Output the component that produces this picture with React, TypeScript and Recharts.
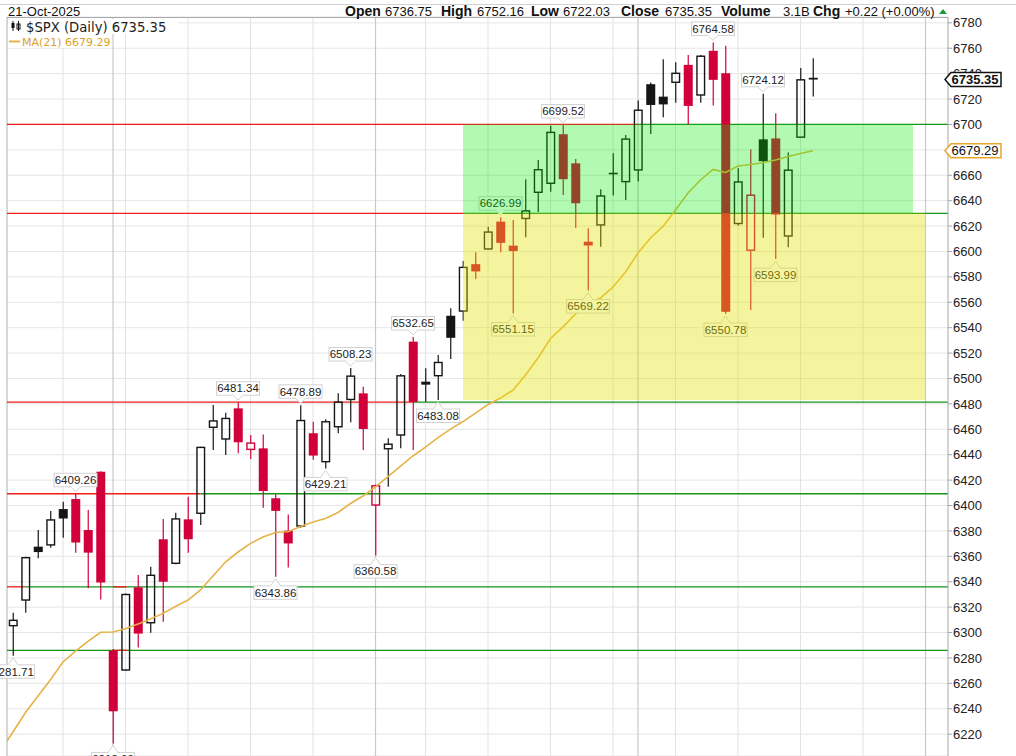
import React from 'react';
import {
  ComposedChart,
  Bar,
  Line,
  XAxis,
  YAxis,
  CartesianGrid,
  ReferenceLine,
  ReferenceArea,
  ReferenceDot,
} from 'recharts';

// ---------------- DATA ----------------
const dates = [
  'Jul 22', 'Jul 23', 'Jul 24', 'Jul 25', 'Jul 28', 'Jul 29', 'Jul 30', 'Jul 31',
  'Aug 1', 'Aug 4', 'Aug 5', 'Aug 6', 'Aug 7', 'Aug 8', 'Aug 11', 'Aug 12', 'Aug 13', 'Aug 14',
  'Aug 15', 'Aug 18', 'Aug 19', 'Aug 20', 'Aug 21', 'Aug 22', 'Aug 25', 'Aug 26', 'Aug 27',
  'Aug 28', 'Aug 29', 'Sep 2', 'Sep 3', 'Sep 4', 'Sep 5', 'Sep 8', 'Sep 9', 'Sep 10', 'Sep 11',
  'Sep 12', 'Sep 15', 'Sep 16', 'Sep 17', 'Sep 18', 'Sep 19', 'Sep 22', 'Sep 23', 'Sep 24',
  'Sep 25', 'Sep 26', 'Sep 29', 'Sep 30', 'Oct 1', 'Oct 2', 'Oct 3', 'Oct 6', 'Oct 7', 'Oct 8',
  'Oct 9', 'Oct 10', 'Oct 13', 'Oct 14', 'Oct 15', 'Oct 16', 'Oct 17', 'Oct 20', 'Oct 21',
];

const opens = [
  6305.4, 6325.6, 6367.6, 6369.0, 6397.2, 6405.1, 6380.7, 6426.6,
  6285.7, 6270.5, 6335.6, 6307.7, 6373.4, 6354.5, 6389.1, 6393.9, 6461.6, 6452.4,
  6476.5, 6444.2, 6445.0, 6405.7, 6380.2, 6383.9, 6456.9, 6434.5, 6462.0,
  6483.5, 6488.3, 6400.4, 6444.7, 6455.5, 6529.0, 6497.5, 6502.2, 6549.4, 6553.1,
  6590.0, 6602.0, 6623.5, 6604.6, 6626.0, 6646.6, 6653.7, 6692.3, 6669.4,
  6607.7, 6620.9, 6662.0, 6655.0, 6664.2, 6731.7, 6721.9, 6733.2, 6746.9, 6723.2,
  6758.0, 6740.3, 6622.0, 6601.0, 6688.3, 6689.0, 6612.2, 6690.0, 6736.75,
];

const highs = [
  6315.6, 6359.7, 6380.7, 6395.7, 6403.0, 6409.26, 6396.5, 6427.02,
  6287.0, 6330.8, 6345.3, 6351.8, 6389.4, 6394.3, 6406.9, 6446.3, 6479.1, 6473.0,
  6481.34, 6455.5, 6456.0, 6408.8, 6393.0, 6478.89, 6466.0, 6467.9, 6488.3,
  6508.23, 6493.5, 6416.5, 6453.0, 6503.5, 6532.65, 6508.0, 6518.5, 6555.3, 6592.5,
  6599.4, 6619.5, 6626.99, 6624.8, 6656.8, 6672.0, 6699.0, 6699.52, 6672.8,
  6618.3, 6649.0, 6677.3, 6691.7, 6718.8, 6733.0, 6751.3, 6749.0, 6754.7, 6754.7,
  6764.58, 6762.0, 6665.5, 6680.5, 6724.12, 6708.8, 6678.0, 6744.5, 6752.16,
];

const lows = [
  6281.71, 6315.6, 6358.4, 6366.8, 6374.6, 6362.8, 6334.8, 6326.1,
  6212.69, 6270.0, 6288.3, 6299.8, 6308.5, 6353.8, 6362.8, 6384.6, 6443.7, 6439.8,
  6441.1, 6436.6, 6398.3, 6343.86, 6351.3, 6382.5, 6436.0, 6429.21, 6456.9,
  6465.5, 6443.7, 6360.58, 6414.8, 6445.0, 6443.7, 6481.7, 6483.08, 6515.4, 6545.5,
  6578.4, 6601.5, 6599.4, 6551.15, 6611.2, 6631.0, 6647.0, 6644.5, 6618.5,
  6569.22, 6603.8, 6644.0, 6640.6, 6655.0, 6692.5, 6705.7, 6717.0, 6699.96, 6717.0,
  6715.0, 6550.78, 6620.3, 6554.0, 6610.9, 6593.99, 6603.3, 6690.0, 6722.03,
];

const closes = [
  6309.62, 6358.91, 6363.35, 6388.64, 6389.77, 6370.86, 6362.90, 6339.39,
  6238.01, 6329.94, 6299.19, 6345.06, 6340.00, 6389.45, 6373.45, 6445.76, 6466.58, 6468.54,
  6449.80, 6449.15, 6411.37, 6395.78, 6370.17, 6466.91, 6439.32, 6465.94, 6481.40,
  6501.86, 6460.26, 6415.54, 6448.26, 6502.08, 6481.50, 6495.15, 6512.61, 6532.04, 6587.47,
  6584.29, 6615.28, 6606.76, 6600.35, 6631.96, 6664.36, 6693.75, 6656.92, 6637.97,
  6604.72, 6643.70, 6661.21, 6688.46, 6711.20, 6715.35, 6715.79, 6740.28, 6714.59, 6753.72,
  6735.11, 6552.51, 6654.72, 6644.31, 6671.06, 6629.07, 6664.01, 6735.13, 6735.35,
];

const closeBeforeFirst = 6305.6;
const maBeforeFirst = 6207.0;

const ma21 = [
  6221.7, 6237.0, 6250.0, 6262.9, 6276.8, 6285.4, 6293.0, 6300.2,
  6300.4, 6303.0, 6306.7, 6310.6, 6315.1, 6320.5, 6325.6, 6333.5, 6344.5, 6355.5,
  6363.4, 6370.2, 6375.2, 6378.7, 6379.4, 6383.5, 6387.0, 6389.8, 6394.5,
  6401.6, 6407.5, 6414.6, 6422.8, 6431.1, 6439.0, 6446.0, 6453.5, 6460.2, 6466.1,
  6472.8, 6479.5, 6484.6, 6490.9, 6502.7, 6516.1, 6531.5, 6540.6, 6550.8,
  6559.1, 6563.4, 6572.0, 6583.9, 6598.8, 6610.6, 6619.7, 6632.7, 6646.1, 6656.3,
  6664.6, 6662.2, 6667.3, 6668.5, 6669.9, 6672.0, 6674.8, 6677.2, 6679.29,
];

const yTicks = [
  6220, 6240, 6260, 6280, 6300, 6320, 6340, 6360, 6380, 6400, 6420, 6440, 6460, 6480,
  6500, 6520, 6540, 6560, 6580, 6600, 6620, 6640, 6660, 6680, 6700, 6720, 6740, 6760, 6780,
];

// weekly (Monday) grid lines and month-start grid lines, as bar indices
const weekLines = [4, 9, 14, 19, 24, 33, 38, 43, 48, 53, 58, 63, 68];
const monthLines = [8, 29, 50, 73];

// callouts: bar index and which extreme is labelled
const calloutIdx = [0, 5, 8, 18, 21, 23, 25, 27, 29, 32, 34, 39, 40, 44, 46, 56, 57, 60, 61];
const calloutSide = [
  'low', 'high', 'low', 'high', 'low', 'high', 'low', 'high', 'low', 'high',
  'low', 'high', 'low', 'high', 'low', 'high', 'low', 'high', 'low',
];

// user drawn levels: value, index where red part ends / green part begins
const levelValues = [6700, 6630, 6481.34, 6409.26, 6336, 6286];
const levelSplit = [50, 36, 32, 15, 1, -0.48];
const gapLevels = [6336, 6286];
const gapFrom = 8;
const gapTo = 9.1;

// zones
const greenZone = { x1: 36, x2: 72, y1: 6630, y2: 6700 };
const yellowZone = { x1: 36, x2: 73, y1: 6483.08, y2: 6630 };

const lastClose = 6735.35;
const lastMA = 6679.29;

// header quote
const headerDate = '21-Oct-2025';
const headerLabels = ['Open', 'High', 'Low', 'Close', 'Volume', 'Chg'];
const headerValues = ['6736.75', '6752.16', '6722.03', '6735.35', '3.1B', '+0.22 (+0.00%)'];

// ---------------- LAYOUT ----------------
const W = 1016;
const H = 756;
const MARGIN = { top: 17, right: 0, bottom: 0, left: 7 };
const X_MIN = -0.48;
const X_MAX = 74.8;
const Y_DOMAIN: [number, number] = [6202.8, 6784.6];
const FONT_A = "'Liberation Sans', Arial, Helvetica, sans-serif";
const FONT_V = "'DejaVu Sans', Verdana, sans-serif";

const RED = '#d1003a';
const BLACK = '#151515';
const LRED = '#ee1c1c';
const LGREEN = '#12951a';
const MA_COLOR = '#e6b347';

const headerLabelX = [345, 441, 531, 621, 721, 813];
const headerValueX = [385, 477, 563, 665, 783, 845];

const data = [
  { i: -1, ma: maBeforeFirst },
  ...dates.map((d, i) => ({
    i,
    date: d,
    o: opens[i],
    h: highs[i],
    l: lows[i],
    c: closes[i],
    pc: i === 0 ? closeBeforeFirst : closes[i - 1],
    range: [lows[i], highs[i]],
    ma: ma21[i],
  })),
];

function Candle(props: any) {
  const { x, y, width, height, payload } = props;
  if (!payload || payload.o == null || y == null) return null;
  const { o, h, l, c, pc } = payload;
  const top = Math.min(y, y + height);
  const bot = Math.max(y, y + height);
  const k = (bot - top) / (h - l || 1);
  const yo = top + (h - o) * k;
  const yc = top + (h - c) * k;
  const cx = x + width / 2;
  const color = c >= pc ? BLACK : RED;
  const hollow = c >= o;
  const bTop = Math.min(yo, yc);
  let bBot = Math.max(yo, yc);
  if (bBot - bTop < 1.6) bBot = bTop + 1.6;
  const bw = 9;
  if (hollow) {
    return (
      <g>
        <line x1={cx} x2={cx} y1={top} y2={bTop} stroke={color} strokeWidth={1.2} />
        <line x1={cx} x2={cx} y1={bBot} y2={bot} stroke={color} strokeWidth={1.2} />
        <rect
          x={cx - bw / 2 + 0.7}
          y={bTop}
          width={bw - 1.4}
          height={bBot - bTop}
          fill="none"
          stroke={color}
          strokeWidth={1.4}
        />
      </g>
    );
  }
  return (
    <g>
      <line x1={cx} x2={cx} y1={top} y2={bot} stroke={color} strokeWidth={1.2} />
      <rect x={cx - bw / 2} y={bTop} width={bw} height={bBot - bTop} fill={color} />
    </g>
  );
}

function Callout(props: any) {
  const { cx, cy, text, below } = props;
  if (cx == null || cy == null) return null;
  const w = 43;
  const h = 13.5;
  const gap = below ? 9 : 7;
  const by = below ? cy + gap : cy - gap - h;
  const baseY = below ? by : by + h;
  const tipY = below ? cy + 2 : cy - 2;
  return (
    <g>
      <rect x={cx - w / 2} y={by} width={w} height={h} fill="#fff" stroke="#d2d2d2" strokeWidth={1} />
      <path
        d={`M${cx - 5},${baseY} L${cx},${tipY} L${cx + 5},${baseY}`}
        fill="#fff"
        stroke="#d2d2d2"
        strokeWidth={1}
      />
      <line x1={cx - 4.3} x2={cx + 4.3} y1={baseY} y2={baseY} stroke="#fff" strokeWidth={1.4} />
      <text
        x={cx}
        y={by + 10.8}
        textAnchor="middle"
        fontSize={11.5}
        fontFamily={FONT_A}
        fill="#222"
      >
        {text}
      </text>
    </g>
  );
}

function ValueTag(props: any) {
  const { cx, cy, text, color, bold } = props;
  if (cx == null || cy == null) return null;
  const l = cx - 3;
  const r = cx + 53;
  const hh = 7;
  return (
    <g>
      <path
        d={`M${l},${cy} L${l + 6},${cy - hh} L${r},${cy - hh} L${r},${cy + hh} L${l + 6},${cy + hh} Z`}
        fill="#fff"
        stroke={color}
        strokeWidth={1.5}
      />
      <text
        x={l + 6.5}
        y={cy + 4.6}
        fontSize={13}
        fontWeight={bold ? 'bold' : 'normal'}
        fontFamily={FONT_A}
        fill="#111"
      >
        {text}
      </text>
    </g>
  );
}

const layerStyle: React.CSSProperties = { position: 'absolute', left: 0, top: 0 };

const xAxisEl = (
  <XAxis dataKey="i" type="number" domain={[X_MIN, X_MAX]} hide allowDataOverflow />
);

function yAxisEl(show: boolean) {
  return (
    <YAxis
      orientation="right"
      type="number"
      domain={Y_DOMAIN}
      ticks={yTicks}
      interval={0}
      width={68}
      allowDataOverflow
      axisLine={show ? { stroke: '#a8a8a8' } : false}
      tickLine={show ? { stroke: '#a8a8a8' } : false}
      tickSize={4}
      tickMargin={1}
      tick={show ? { fontSize: 13, fill: '#222', fontFamily: FONT_A } : false}
    />
  );
}

export default function App() {
  const common = { width: W, height: H, data, margin: MARGIN };
  return (
    <div style={{ position: 'absolute', left: 0, top: 0, width: W, height: H, overflow: 'hidden', background: '#fff' }}>
      {/* Layer 1: grid, axis, drawn levels */}
      <div style={layerStyle}>
        <ComposedChart {...common}>
          {xAxisEl}
          {yAxisEl(true)}
          <CartesianGrid vertical={false} stroke="#e6e6e6" strokeWidth={1} />
          {weekLines.map((v) => (
            <ReferenceLine key={'w' + v} x={v} stroke="#e3e3e3" strokeWidth={1} ifOverflow="visible" />
          ))}
          {monthLines.map((v) => (
            <ReferenceLine key={'m' + v} x={v} stroke="#c9c9c9" strokeWidth={1.2} ifOverflow="visible" />
          ))}
          <ReferenceLine x={X_MIN} stroke="#b0b0b0" strokeWidth={1} ifOverflow="visible" />
          {levelValues.map((v, k) =>
            levelSplit[k] > X_MIN ? (
              <ReferenceLine
                key={'r' + k}
                segment={[{ x: X_MIN, y: v }, { x: levelSplit[k], y: v }]}
                stroke={LRED}
                strokeWidth={1.3}
                ifOverflow="visible"
              />
            ) : null
          )}
          {levelValues.map((v, k) => (
            <ReferenceLine
              key={'g' + k}
              segment={[{ x: levelSplit[k], y: v }, { x: X_MAX, y: v }]}
              stroke={LGREEN}
              strokeWidth={1.3}
              ifOverflow="visible"
            />
          ))}
          {gapLevels.map((v, k) => (
            <ReferenceLine
              key={'gap' + k}
              segment={[{ x: gapFrom, y: v }, { x: gapTo, y: v }]}
              stroke={LRED}
              strokeWidth={1.3}
              ifOverflow="visible"
            />
          ))}
        </ComposedChart>
      </div>

      {/* Layer 2: candles, MA, callouts */}
      <div style={layerStyle}>
        <ComposedChart {...common}>
          {xAxisEl}
          {yAxisEl(false)}
          <Bar dataKey="range" barSize={9} shape={<Candle />} isAnimationActive={false} />
          <Line
            dataKey="ma"
            type="linear"
            stroke={MA_COLOR}
            strokeWidth={1.6}
            dot={false}
            activeDot={false}
            isAnimationActive={false}
          />
          {calloutIdx.map((idx, k) => {
            const below = calloutSide[k] === 'low';
            const v = below ? lows[idx] : highs[idx];
            return (
              <ReferenceDot
                key={'c' + k}
                x={idx}
                y={v}
                r={0}
                ifOverflow="visible"
                shape={(p: any) => <Callout {...p} text={v.toFixed(2)} below={below} />}
              />
            );
          })}
        </ComposedChart>
      </div>

      {/* Layer 3: translucent zones and price tags */}
      <div style={layerStyle}>
        <ComposedChart {...common}>
          {xAxisEl}
          {yAxisEl(false)}
          <ReferenceArea
            x1={greenZone.x1}
            x2={greenZone.x2}
            y1={greenZone.y1}
            y2={greenZone.y2}
            fill="#00f000"
            fillOpacity={0.3}
            stroke="none"
            ifOverflow="visible"
          />
          <ReferenceArea
            x1={yellowZone.x1}
            x2={yellowZone.x2}
            y1={yellowZone.y1}
            y2={yellowZone.y2}
            fill="#e6e100"
            fillOpacity={0.38}
            stroke="none"
            ifOverflow="visible"
          />
          <ReferenceDot
            x={X_MAX}
            y={lastClose}
            r={0}
            ifOverflow="visible"
            shape={(p: any) => <ValueTag {...p} text={lastClose.toFixed(2)} color="#111" bold />}
          />
          <ReferenceDot
            x={X_MAX}
            y={lastMA}
            r={0}
            ifOverflow="visible"
            shape={(p: any) => <ValueTag {...p} text={lastMA.toFixed(2)} color="#e8a52a" bold={false} />}
          />
        </ComposedChart>
      </div>

      {/* Layer 4: header and legend */}
      <svg width={W} height={60} style={{ position: 'absolute', left: 0, top: 0, pointerEvents: 'none' }}>
        <line x1={0} x2={W} y1={4.5} y2={4.5} stroke="#d0d0d0" />
        <line x1={7} x2={948} y1={17.5} y2={17.5} stroke="#a8a8a8" />
        <text x={8} y={16} fontSize={13} fontFamily={FONT_A} fill="#111">{headerDate}</text>
        {headerLabels.map((t, k) => (
          <text key={'hl' + k} x={headerLabelX[k]} y={16} fontSize={14} fontWeight="bold" fontFamily={FONT_A} fill="#111">
            {t}
          </text>
        ))}
        {headerValues.map((t, k) => (
          <text key={'hv' + k} x={headerValueX[k]} y={16} fontSize={13} fontFamily={FONT_A} fill="#111">
            {t}
          </text>
        ))}
        <path d="M939,14 L943,9 L947,14 Z" fill="#1a9a3a" />
        {/* legend */}
        <rect x={8} y={19} width={170} height={15} fill="#fff" />
        <rect x={8} y={34} width={104} height={14} fill="#fff" />
        <line x1={13} x2={13} y1={21} y2={31} stroke="#111" strokeWidth={1} />
        <rect x={11.5} y={23} width={3} height={5} fill="#111" />
        <line x1={18.5} x2={18.5} y1={21} y2={31} stroke="#111" strokeWidth={1} />
        <rect x={17} y={24} width={3} height={5} fill="none" stroke="#111" strokeWidth={1} />
        <text x={26} y={31.5} fontSize={13.2} fontFamily={FONT_V} fill="#222">$SPX (Daily) 6735.35</text>
        <line x1={9} x2={20} y1={41.5} y2={41.5} stroke={MA_COLOR} strokeWidth={2} />
        <text x={22} y={45.5} fontSize={11} fontFamily={FONT_V} fill="#e0a12a">MA(21) 6679.29</text>
      </svg>
    </div>
  );
}
